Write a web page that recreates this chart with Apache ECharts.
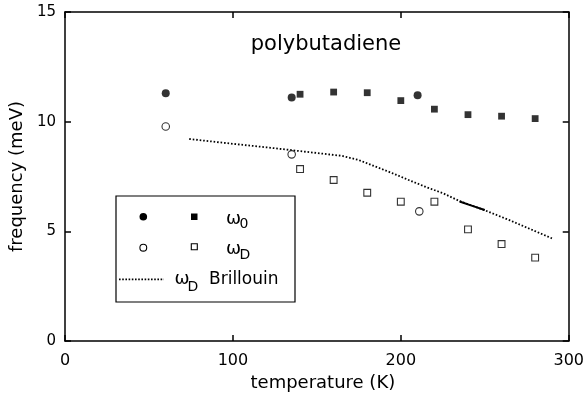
<!DOCTYPE html>
<html>
<head>
<meta charset="utf-8">
<script src="https://cdn.jsdelivr.net/npm/echarts@6/dist/echarts.min.js"></script>
<style>html,body{margin:0;padding:0;background:#fff}#c{width:587px;height:400px}</style>
</head>
<body>
<div id="c"></div>
<script>
// ---- data ----
const xTickLabels = [0, 100, 200, 300];
const yTickLabels = [0, 5, 10, 15];

const omega0CircleT = [60, 135, 210];
const omega0CircleV = [11.3, 11.1, 11.2];
const omega0SquareT = [140, 160, 180, 200, 220, 240, 260, 280];
const omega0SquareV = [11.25, 11.35, 11.32, 10.96, 10.57, 10.32, 10.25, 10.14];

const omegaDCircleT = [60, 135, 211];
const omegaDCircleV = [9.78, 8.51, 5.91];
const omegaDSquareT = [140, 160, 180, 200, 220, 240, 260, 280];
const omegaDSquareV = [7.84, 7.34, 6.76, 6.35, 6.35, 5.09, 4.42, 3.80];

const brillouinT = [74, 100, 120, 134, 150, 165, 175, 185, 195, 205, 215, 225, 235, 250, 265, 290];
const brillouinV = [9.21, 8.99, 8.83, 8.71, 8.57, 8.44, 8.25, 7.95, 7.65, 7.33, 7.02, 6.74, 6.38, 5.96, 5.5, 4.68];
const brillouinSolidT = [235, 243, 250];
const brillouinSolidV = [6.36, 6.15, 5.97];

const zip = (a, b) => a.map((v, i) => [v, b[i]]);

const FONT = 'DejaVu Sans';
const chart = echarts.init(document.getElementById('c'));

const axisCommon = {
  axisLine: { show: true, onZero: false, lineStyle: { color: '#000', width: 1.5 } },
  axisTick: { show: true, inside: true, length: 6, lineStyle: { color: '#000', width: 1.5 } },
  splitLine: { show: false },
  minorTick: { show: false }
};

// legend graphic (layout only)
const lg = [];
lg.push({ type: 'rect', shape: { x: 116, y: 196, width: 179, height: 106 }, style: { fill: '#fff', stroke: '#000', lineWidth: 1.2 }, z: 100 });
lg.push({ type: 'circle', shape: { cx: 143.3, cy: 216.7, r: 3.8 }, style: { fill: '#000' }, z: 101 });
lg.push({ type: 'rect', shape: { x: 191, y: 213.5, width: 6.5, height: 6.5 }, style: { fill: '#000' }, z: 101 });
lg.push({ type: 'circle', shape: { cx: 143.3, cy: 247.7, r: 3.4 }, style: { fill: '#fff', stroke: '#000', lineWidth: 1.1 }, z: 101 });
lg.push({ type: 'rect', shape: { x: 191.3, y: 243.8, width: 6, height: 6 }, style: { fill: '#fff', stroke: '#000', lineWidth: 1.1 }, z: 101 });
lg.push({ type: 'line', shape: { x1: 119, y1: 279.3, x2: 164, y2: 279.3 }, style: { stroke: '#000', lineWidth: 1.8, lineDash: [1.6, 1.6] }, z: 101 });
function txt(x, y, s, size, align) {
  lg.push({ type: 'text', x: x, y: y, z: 101, style: { text: s, fontFamily: FONT, fontSize: size, fill: '#000', align: align || 'left', verticalAlign: 'middle' } });
}
txt(226, 219.5, 'ω', 18); txt(239.5, 224, '0', 14);
txt(226, 249.5, 'ω', 18); txt(239.5, 255, 'D', 14);
txt(174.5, 279.5, 'ω', 18); txt(187.5, 287.5, 'D', 14);
txt(209, 279.5, 'Brillouin', 17);
txt(326, 45, 'polybutadiene', 21, 'center');

chart.setOption({
  animation: false,
  backgroundColor: '#fff',
  textStyle: { fontFamily: FONT },
  grid: { left: 63.6, right: 14.3, top: 12, bottom: 59, containLabel: false },
  xAxis: [
    Object.assign({
      type: 'value', min: xTickLabels[0], max: xTickLabels[xTickLabels.length - 1], interval: xTickLabels[1] - xTickLabels[0],
      position: 'bottom',
      name: 'temperature (K)', nameLocation: 'middle', nameGap: 31,
      nameTextStyle: { fontFamily: FONT, fontSize: 18, color: '#000', padding: [0, 0, 0, 12] },
      axisLabel: { show: true, margin: 12, fontFamily: FONT, fontSize: 16, color: '#000' }
    }, axisCommon),
    Object.assign({
      type: 'value', min: xTickLabels[0], max: xTickLabels[xTickLabels.length - 1], interval: xTickLabels[1] - xTickLabels[0],
      position: 'top', axisLabel: { show: false }
    }, axisCommon)
  ],
  yAxis: [
    Object.assign({
      type: 'value', min: yTickLabels[0], max: yTickLabels[yTickLabels.length - 1], interval: yTickLabels[1] - yTickLabels[0],
      position: 'left',
      name: 'frequency (meV)', nameLocation: 'middle', nameGap: 38,
      nameTextStyle: { fontFamily: FONT, fontSize: 18, color: '#000' },
      axisLabel: { show: true, margin: 9, fontFamily: FONT, fontSize: 15, color: '#000' }
    }, axisCommon),
    Object.assign({
      type: 'value', min: yTickLabels[0], max: yTickLabels[yTickLabels.length - 1], interval: yTickLabels[1] - yTickLabels[0],
      position: 'right', axisLabel: { show: false }
    }, axisCommon)
  ],
  graphic: lg,
  series: [
    { type: 'line', name: 'ωD Brillouin', data: zip(brillouinT, brillouinV), showSymbol: false, symbol: 'none',
      lineStyle: { color: '#000', width: 1.8, type: [1.6, 1.9] }, z: 2 },
    { type: 'line', name: 'solid', data: zip(brillouinSolidT, brillouinSolidV), showSymbol: false, symbol: 'none',
      lineStyle: { color: '#000', width: 2 }, z: 2 },
    { type: 'scatter', name: 'ω0 circle', data: zip(omega0CircleT, omega0CircleV), symbol: 'circle', symbolSize: 8,
      itemStyle: { color: '#000' }, z: 3 },
    { type: 'scatter', name: 'ω0 square', data: zip(omega0SquareT, omega0SquareV), symbol: 'rect', symbolSize: 6.8,
      itemStyle: { color: '#000' }, z: 3 },
    { type: 'scatter', name: 'ωD circle', data: zip(omegaDCircleT, omegaDCircleV), symbol: 'circle', symbolSize: 7.5,
      itemStyle: { color: '#fff', borderColor: '#000', borderWidth: 1.1 }, z: 3 },
    { type: 'scatter', name: 'ωD square', data: zip(omegaDSquareT, omegaDSquareV), symbol: 'rect', symbolSize: 6.8,
      itemStyle: { color: '#fff', borderColor: '#000', borderWidth: 1.1 }, z: 3 }
  ]
});
</script>
</body>
</html>
